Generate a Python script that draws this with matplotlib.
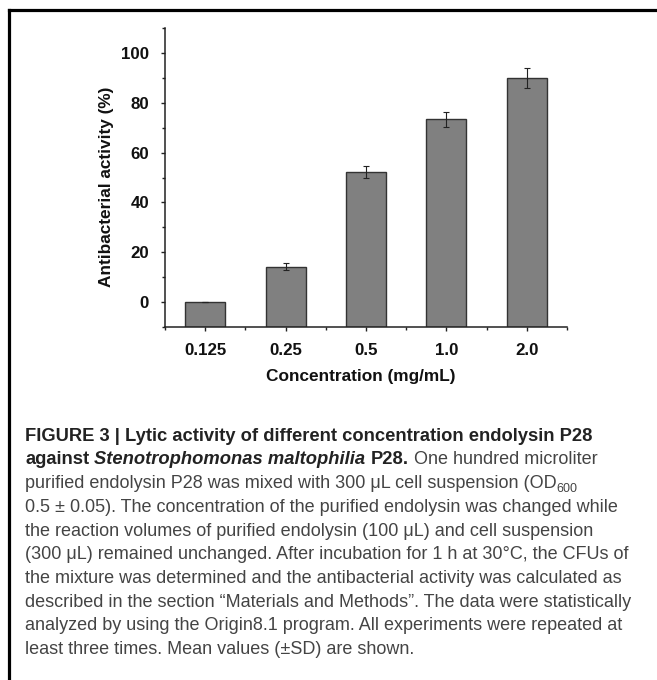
import matplotlib
matplotlib.use('Agg')
import matplotlib.pyplot as plt
from matplotlib.lines import Line2D
from matplotlib.ticker import FixedLocator, MultipleLocator

# data
concentrations = ['0.125', '0.25', '0.5', '1.0', '2.0']
activity = [0.0, 14.2, 52.3, 73.3, 89.9]
activity_sd = [0.0, 1.3, 2.3, 3.1, 3.9]

caption_lines = [
    [('FIGURE 3 | Lytic activity of different concentration endolysin P28', 'b')],
    [('against', 'b'), ('Stenotrophomonas maltophilia', 'bi'), ('P28.', 'b'),
     ('One hundred microliter', 'r')],
    [('purified endolysin P28 was mixed with 300 \u03bcL cell suspension (OD', 'r'),
     ('600', 'sub')],
    [('0.5 \u00b1 0.05). The concentration of the purified endolysin was changed while', 'r')],
    [('the reaction volumes of purified endolysin (100 \u03bcL) and cell suspension', 'r')],
    [('(300 \u03bcL) remained unchanged. After incubation for 1 h at 30\u00b0C, the CFUs of', 'r')],
    [('the mixture was determined and the antibacterial activity was calculated as', 'r')],
    [('described in the section \u201cMaterials and Methods\u201d. The data were statistically', 'r')],
    [('analyzed by using the Origin8.1 program. All experiments were repeated at', 'r')],
    [('least three times. Mean values (\u00b1SD) are shown.', 'r')],
]

plt.rcParams['font.family'] = ['Liberation Sans', 'DejaVu Sans']

W, H = 657, 680
fig = plt.figure(figsize=(W / 100, H / 100), dpi=100)

ax = fig.add_axes([165 / W, 1 - 327 / H, 402 / W, 299 / H])
x = list(range(len(concentrations)))
base = -10
ax.bar(x, [v - base for v in activity], bottom=base, width=0.5,
       color='#808080', edgecolor='#333333', linewidth=1.0, zorder=2)
ax.errorbar(x, activity, yerr=activity_sd, fmt='none', ecolor='#222222',
            elinewidth=0.8, capsize=2.5, capthick=0.8, zorder=3)

ax.set_xlim(-0.5, 4.5)
ax.set_ylim(-10, 110)
ax.set_xticks(x)
ax.set_xticklabels(concentrations)
ax.xaxis.set_minor_locator(FixedLocator([i - 0.5 for i in range(len(x) + 1)]))
ax.set_yticks(range(0, 101, 20))
ax.yaxis.set_minor_locator(MultipleLocator(10))
for side in ['top', 'right']:
    ax.spines[side].set_visible(False)
for side in ['left', 'bottom']:
    ax.spines[side].set_linewidth(1.1)
    ax.spines[side].set_color('#222222')
ax.tick_params(which='major', direction='out', length=3, width=1, color='#222222')
ax.tick_params(which='minor', direction='out', length=2, width=1, color='#222222')
ax.tick_params(axis='y', which='major', pad=8.5)
ax.tick_params(axis='x', which='major', pad=8.5)
for lab in ax.get_xticklabels() + ax.get_yticklabels():
    lab.set_fontsize(12.2)
    lab.set_fontweight('bold')
    lab.set_color('#111111')

fig.text(107 / W, 1 - 187 / H, 'Antibacterial activity (%)', rotation=90,
         ha='center', va='center', fontsize=12.4, fontweight='bold', color='#111111')
fig.text(361 / W, 1 - 377 / H, 'Concentration (mg/mL)', ha='center', va='center',
         fontsize=12.4, fontweight='bold', color='#111111')

# frame lines (left and top only)
fig.add_artist(Line2D([9 / W, 9 / W], [0, 1 - 10 / H], transform=fig.transFigure,
                      color='black', lw=2.3, solid_capstyle='projecting'))
fig.add_artist(Line2D([9 / W, 1], [1 - 10 / H, 1 - 10 / H], transform=fig.transFigure,
                      color='black', lw=2.3, solid_capstyle='projecting'))

# caption
styles = {
    'b': dict(fontsize=13.2, fontweight='bold', color='#222222'),
    'bi': dict(fontsize=13.2, fontweight='bold', fontstyle='italic', color='#222222'),
    'r': dict(fontsize=13.0, color='#444444'),
    'sub': dict(fontsize=9, color='#444444'),
}
renderer = fig.canvas.get_renderer()


def text_width(s, style):
    t = fig.text(0, 0, s, **styles[style])
    w = t.get_window_extent(renderer).width
    t.remove()
    return w


space_w = {k: text_width('a a', k) - text_width('aa', k) for k in styles}

x0 = 25
base0 = 440.7
step = 23.7
for i, segs in enumerate(caption_lines):
    y = base0 + i * step
    xp = x0
    for j, (s, st) in enumerate(segs):
        dy = 0
        if st == 'sub':
            dy = 3.5
        elif j > 0:
            xp += space_w[st]
        t = fig.text(xp / W, 1 - (y + dy) / H, s, ha='left', va='baseline', **styles[st])
        xp = t.get_window_extent(renderer).x1

fig.savefig('out.png', dpi=100)
